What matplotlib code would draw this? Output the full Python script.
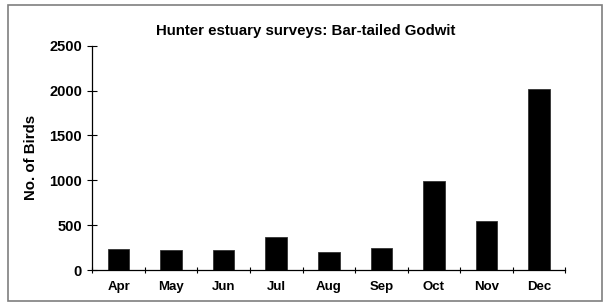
import numpy as np
import matplotlib
matplotlib.use("Agg")
import matplotlib.pyplot as plt
from matplotlib.patches import Rectangle

months = ["Apr", "May", "Jun", "Jul", "Aug", "Sep", "Oct", "Nov", "Dec"]
birds = [238, 227, 227, 372, 205, 249, 993, 548, 2012]
yTicks = [0, 500, 1000, 1500, 2000, 2500]

plt.rcParams["font.family"] = ["Liberation Sans", "DejaVu Sans"]
plt.rcParams["font.weight"] = "bold"

fig = plt.figure(figsize=(6.05, 3.04), dpi=100)
ax = fig.add_axes([0.1526, 0.1118, 0.7818, 0.7379])

x = np.arange(len(months))
ax.bar(x, birds, width=0.41, color="black", edgecolor="#333333", linewidth=0.6)

ax.set_xlim(-0.5, len(months) - 0.5)
ax.set_ylim(0, 2500)
ax.set_yticks(yTicks)
ax.set_yticklabels([str(v) for v in yTicks], fontsize=10.5, fontweight="bold")
ax.set_xticks(x)
ax.set_xticklabels(months, fontsize=9.5, fontweight="bold")
ax.set_xticks(np.arange(len(months) + 1) - 0.5, minor=True)

ax.tick_params(axis="y", direction="inout", length=7, width=0.8, pad=4)
ax.tick_params(axis="x", which="major", length=0, pad=8)
ax.tick_params(axis="x", which="minor", direction="inout", length=5, width=0.8)

for side in ["top", "right"]:
    ax.spines[side].set_visible(False)
for side in ["left", "bottom"]:
    ax.spines[side].set_linewidth(0.9)

ax.set_ylabel("No. of Birds", fontsize=10.8, fontweight="bold", labelpad=8)
fig.text(0.506, 0.897, "Hunter estuary surveys: Bar-tailed Godwit",
         ha="center", va="center", fontsize=10.8, fontweight="bold")

# grey frame around the whole chart area
fig.patches.append(Rectangle((8 / 605, 3 / 304), 594 / 605, 296 / 304,
                             transform=fig.transFigure, fill=False,
                             edgecolor="#7f7f7f", linewidth=1.2))

fig.savefig("out.png", dpi=100)
